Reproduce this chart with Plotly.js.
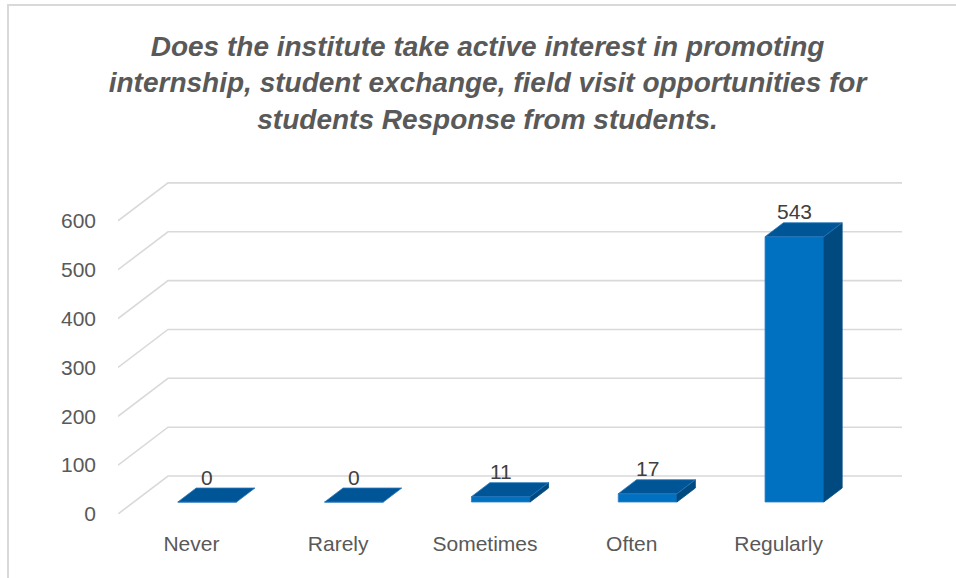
<!DOCTYPE html>
<html>
<head>
<meta charset="utf-8">
<script src="https://cdn.plot.ly/plotly-3.0.1.min.js"></script>
<style>
  html, body { margin: 0; padding: 0; background: #ffffff; }
  #wrap { position: relative; width: 956px; height: 578px; overflow: hidden; }
  #chart { width: 956px; height: 578px; }
  #frame { position: absolute; left: 7px; top: 4px; right: -4px; bottom: -4px;
           border-top: 2px solid #d9d9d9; border-left: 2px solid #d9d9d9; pointer-events: none; }
</style>
</head>
<body>
<div id="wrap">
  <div id="chart"></div>
  <div id="frame"></div>
</div>
<script>
// ---- data ----
const categories = ['Never', 'Rarely', 'Sometimes', 'Often', 'Regularly'];
const values = [0, 0, 11, 17, 543];
const yTickValues = [0, 100, 200, 300, 400, 500, 600];
const yTickLabels = ['0', '100', '200', '300', '400', '500', '600'];
const titleText = 'Does the institute take active interest in promoting<br>internship, student exchange, field visit opportunities for<br>students Response from students.';

// ---- 3D look (oblique projection expressed in axis units) ----
const DX = 0.3406;   // full depth, x (category units)
const DY = 77.7;     // full depth, y (value units)
const D1 = 0.316, D2 = 0.684; // bar front / back depth
const BW = 0.4;      // bar width (category units)
const Y_MAX_AXIS = 700;
const X_MAX_AXIS = 5.4496;

function proj(c, v, d) { return [c + d * DX, v + d * DY]; }

// gridlines (below everything): diagonal on side wall + horizontal on back wall
const gridShapes = yTickValues.map(g => {
  const a = proj(0, g, 0), b = proj(0, g, 1), e = proj(categories.length, g, 1);
  return {
    type: 'path', xref: 'x', yref: 'y', layer: 'below',
    path: 'M' + a[0] + ',' + a[1] + ' L' + b[0] + ',' + b[1] + ' L' + e[0] + ',' + e[1],
    line: { color: '#d9d9d9', width: 1.6 }
  };
});

const topX = [], topY = [], sideX = [], sideY = [];
values.forEach((v, i) => {
  const cl = i + 0.5 - BW / 2, cr = i + 0.5 + BW / 2;
  const p = [proj(cl, v, D1), proj(cr, v, D1), proj(cr, v, D2), proj(cl, v, D2), proj(cl, v, D1)];
  p.forEach(q => { topX.push(q[0]); topY.push(q[1]); });
  topX.push(null); topY.push(null);
  if (v > 0) {
    const s = [proj(cr, 0, D1), proj(cr, v, D1), proj(cr, v, D2), proj(cr, 0, D2), proj(cr, 0, D1)];
    s.forEach(q => { sideX.push(q[0]); sideY.push(q[1]); });
    sideX.push(null); sideY.push(null);
  }
});

const traces = [
  { type: 'bar', x: values.map((v, i) => i + 0.5 + D1 * DX), y: values,
    base: values.map(() => D1 * DY), width: BW,
    marker: { color: '#0070c0', line: { color: '#2f82c9', width: 0.8 } },
    hoverinfo: 'skip', showlegend: false },
  { type: 'scatter', mode: 'lines', x: sideX, y: sideY, fill: 'toself', fillcolor: '#004a80',
    line: { color: '#004a80', width: 0.8 }, hoverinfo: 'skip', showlegend: false },
  { type: 'scatter', mode: 'lines', x: topX, y: topY, fill: 'toself', fillcolor: '#005596',
    line: { color: '#2a78bd', width: 0.8 }, hoverinfo: 'skip', showlegend: false }
];

const annotations = values.map((v, i) => ({
  x: i + 0.5 + D1 * DX, y: v + D2 * DY, xref: 'x', yref: 'y',
  text: String(v), showarrow: false, yanchor: 'middle', xanchor: 'center', yshift: 11,
  font: { family: 'Liberation Sans, Arial, sans-serif', size: 21, color: '#404040' }
}));

const layout = {
  width: 956, height: 578,
  margin: { l: 118, r: 38, t: 172.4, b: 64 },
  paper_bgcolor: '#ffffff', plot_bgcolor: 'rgba(0,0,0,0)',
  title: {
    text: titleText, x: 0.51, xanchor: 'center', y: 0.903, yanchor: 'top',
    font: { family: 'Liberation Sans, Arial, sans-serif', size: 28, color: '#595959', weight: 'bold', style: 'italic' }
  },
  xaxis: {
    range: [0, X_MAX_AXIS], showgrid: false, zeroline: false, showline: false,
    tickvals: categories.map((c, i) => i + 0.5), ticktext: categories,
    ticks: '', ticklabelstandoff: 15,
    tickfont: { family: 'Liberation Sans, Arial, sans-serif', size: 21, color: '#595959' },
    fixedrange: true
  },
  yaxis: {
    range: [0, Y_MAX_AXIS], showgrid: false, zeroline: false, showline: false,
    tickvals: yTickValues, ticktext: yTickLabels,
    ticks: '', ticklabelstandoff: 21,
    tickfont: { family: 'Liberation Sans, Arial, sans-serif', size: 21, color: '#595959' },
    fixedrange: true
  },
  shapes: gridShapes,
  annotations: annotations,
  showlegend: false,
  bargap: 0
};

Plotly.newPlot('chart', traces, layout, { displayModeBar: false, staticPlot: true });
</script>
</body>
</html>
